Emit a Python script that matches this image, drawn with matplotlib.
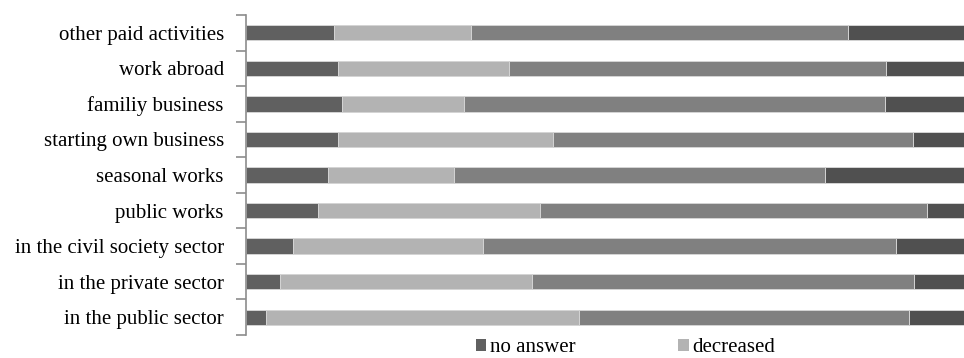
import matplotlib
matplotlib.use("Agg")
import matplotlib.pyplot as plt
from matplotlib.patches import Patch
import numpy as np

# Activities, listed from bottom to top
categories = [
    "in the public sector",
    "in the private sector",
    "in the civil society sector",
    "public works",
    "seasonal works",
    "starting own business",
    "familiy business",
    "work abroad",
    "other paid activities",
]

# Shares of answers (%), same order as categories
no_answer = [2.8, 4.7, 6.5, 10.0, 11.4, 12.8, 13.4, 12.8, 12.3]
decreased = [43.6, 35.1, 26.5, 30.9, 17.6, 30.0, 17.0, 23.8, 19.1]
unchanged = [45.9, 53.3, 57.5, 53.9, 51.7, 50.1, 58.6, 52.5, 52.5]
increased = [7.7, 6.9, 9.5, 5.2, 19.3, 7.1, 11.0, 10.9, 16.1]

series = [
    ("no answer", no_answer, "#606060"),
    ("decreased", decreased, "#b3b3b3"),
    ("unchanged", unchanged, "#808080"),
    ("increased", increased, "#505050"),
]

plt.rcParams["font.family"] = ["Liberation Serif", "DejaVu Serif"]

fig = plt.figure(figsize=(9.64, 3.58), dpi=100)
ax = fig.add_axes([246 / 964, 1 - 335 / 358, 1 - 246 / 964, 320 / 358])

y = np.arange(len(categories))
left = np.zeros(len(categories))
handles = []
for name, vals, color in series:
    vals = np.asarray(vals, dtype=float)
    ax.barh(y, vals, left=left, height=0.43, color=color,
            edgecolor="#d4d4d4", linewidth=0.7)
    left += vals
    handles.append(Patch(facecolor=color, edgecolor="none", label=name))

ax.set_xlim(0, 100)
ax.set_ylim(-0.5, len(categories) - 0.5)

for s in ("top", "right", "bottom"):
    ax.spines[s].set_visible(False)
ax.spines["left"].set_color("#8c8c8c")
ax.spines["left"].set_linewidth(1.2)
ax.set_xticks([])

ax.set_yticks(y)
ax.set_yticklabels(categories, fontsize=15)
ax.tick_params(axis="y", which="major", length=0, pad=16)
ax.set_yticks(np.arange(-0.5, len(categories), 1.0), minor=True)
ax.tick_params(axis="y", which="minor", length=7, width=1.2,
               color="#8c8c8c", direction="out")

leg = fig.legend(handles=handles[:2], loc="center left",
                 bbox_to_anchor=(476 / 964, 1 - 348 / 358),
                 ncol=2, frameon=False, fontsize=15,
                 handlelength=0.5, handleheight=0.5, handletextpad=0.15,
                 columnspacing=4.95, borderaxespad=0, borderpad=0)

fig.savefig("out.png", dpi=100)
